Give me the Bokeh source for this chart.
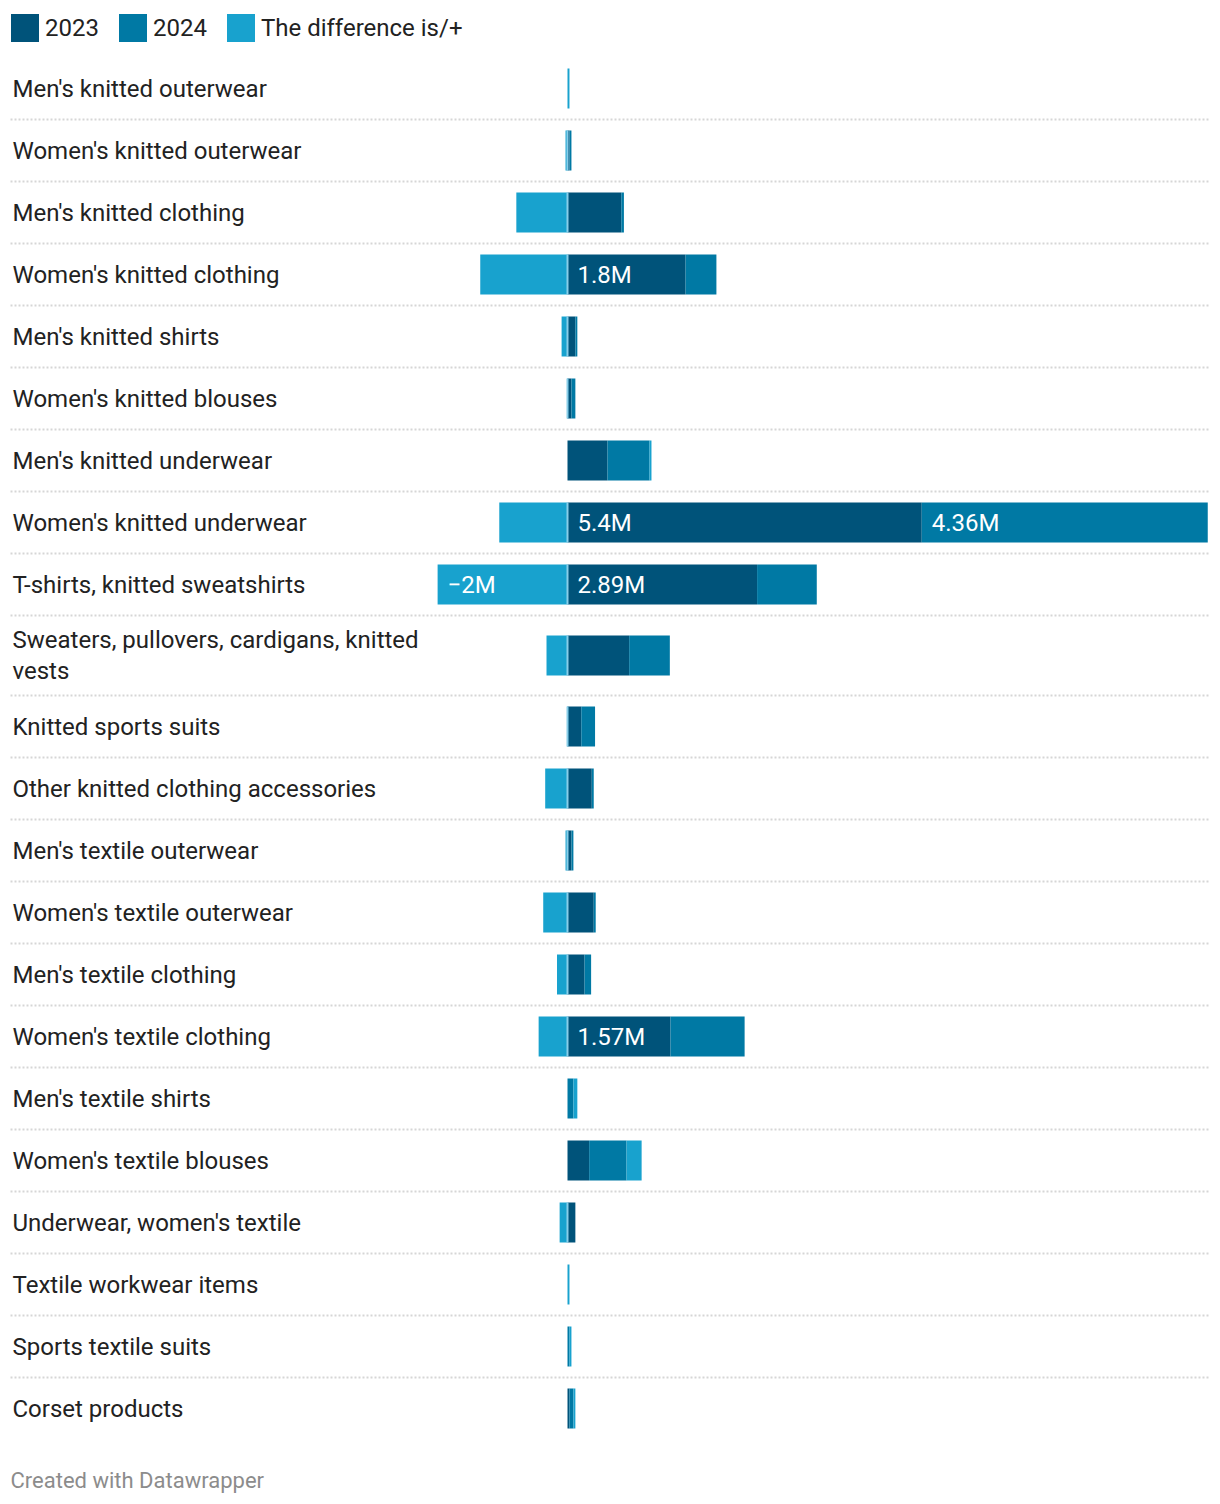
from bokeh.plotting import figure
from bokeh.models import Range1d, Legend, LegendItem, Label, ColumnDataSource
from bokeh.core.properties import value
from bokeh.embed import file_html
from bokeh.resources import INLINE

# ---------------- data (millions) ----------------
categories = [
    "Men's knitted outerwear",
    "Women's knitted outerwear",
    "Men's knitted clothing",
    "Women's knitted clothing",
    "Men's knitted shirts",
    "Women's knitted blouses",
    "Men's knitted underwear",
    "Women's knitted underwear",
    "T-shirts, knitted sweatshirts",
    "Sweaters, pullovers, cardigans, knitted\nvests",
    "Knitted sports suits",
    "Other knitted clothing accessories",
    "Men's textile outerwear",
    "Women's textile outerwear",
    "Men's textile clothing",
    "Women's textile clothing",
    "Men's textile shirts",
    "Women's textile blouses",
    "Underwear, women's textile",
    "Textile workwear items",
    "Sports textile suits",
    "Corset products",
]
v2023 = [0.0, 0.03, 0.82, 1.8, 0.12, 0.06, 0.61, 5.4, 2.89, 0.94, 0.21, 0.37,
         0.06, 0.40, 0.26, 1.57, 0.0, 0.33, 0.12, 0.0, 0.0, 0.03]
v2024 = [0.0, 0.03, 0.04, 0.47, 0.03, 0.06, 0.64, 4.36, 0.91, 0.62, 0.21, 0.03,
         0.03, 0.03, 0.10, 1.13, 0.09, 0.57, 0.0, 0.0, 0.03, 0.06]
vdiff = [0.03, -0.03, -0.78, -1.33, -0.09, -0.005, 0.03, -1.04, -1.98, -0.32, -0.005, -0.34,
         -0.03, -0.37, -0.16, -0.44, 0.06, 0.23, -0.12, 0.03, 0.03, 0.03]
lab2023 = ["", "", "", "1.8M", "", "", "", "5.4M", "2.89M", "", "", "",
           "", "", "", "1.57M", "", "", "", "", "", ""]
lab2024 = ["", "", "", "", "", "", "", "4.36M", "", "", "", "",
           "", "", "", "", "", "", "", "", "", ""]
labdiff = ["", "", "", "", "", "", "", "", "\u22122M", "", "", "",
           "", "", "", "", "", "", "", "", "", ""]
series_names = ["2023", "2024", "The difference is/+"]

# ---------------- style / layout ----------------
C2023, C2024, CDIFF, CZERO = "#00537a", "#0079a4", "#18a2ce", "#88cee9"
FONT = "Roboto"
W, H = 1216, 1500
PX_PER_M = 65.6
ZERO_PX = 567
xs = -ZERO_PX / PX_PER_M
xe = (W - ZERO_PX) / PX_PER_M
ROW_H, LINE_EXTRA, TOP, BAR_H = 62, 18, 57, 40

p = figure(width=W, height=H, x_range=Range1d(xs, xe), y_range=Range1d(H, 0),
           output_backend="svg", toolbar_location=None,
           x_axis_location=None, y_axis_location=None, min_border=0,
           outline_line_color=None, background_fill_color="white")
p.grid.visible = False

n = len(categories)
centers, bottoms = [], []
y = TOP
for c in categories:
    h = ROW_H + LINE_EXTRA * c.count("\n")
    centers.append(y + h / 2)
    bottoms.append(y + h)
    y += h

# dotted separators between rows
sep_y = bottoms[:-1]
p.segment(x0=[xs + 10 / PX_PER_M] * len(sep_y), x1=[xs + 1208 / PX_PER_M] * len(sep_y),
          y0=sep_y, y1=sep_y, line_color="#d6d6d6", line_width=2, line_dash="2 2")

# stacked bars
pos = [0.0] * n
neg = [0.0] * n
renderers = []
label_sources = []
for vals, col, labs in [(v2023, C2023, lab2023), (v2024, C2024, lab2024), (vdiff, CDIFF, labdiff)]:
    left, right = [], []
    for i, v in enumerate(vals):
        if v >= 0:
            left.append(pos[i]); right.append(pos[i] + v); pos[i] += v
        else:
            right.append(neg[i]); left.append(neg[i] + v); neg[i] += v
    src = ColumnDataSource(dict(y=centers, left=left, right=right, lab=labs))
    r = p.hbar(y="y", left="left", right="right", height=BAR_H, source=src,
               fill_color=col, line_color=None)
    renderers.append(r)
    label_sources.append(src)

# pale zero seam where the difference is negative
zy = [centers[i] for i in range(n) if vdiff[i] < 0]
p.rect(x=[0] * len(zy), y=zy, width=2, width_units="screen", height=BAR_H,
       fill_color=CZERO, line_color=None)

# value labels
for src in label_sources:
    p.text(x="left", y="y", text="lab", source=src, x_offset=10,
           text_font=value(FONT), text_font_size="24px", text_color="white",
           text_baseline="middle", text_align="left")

# category labels
p.text(x=[xs] * n, y=centers, text=categories, x_offset=12,
       text_font=value(FONT), text_font_size="24px", text_color="#222222",
       text_baseline="middle", text_align="left", text_line_height=1.1)

# legend (bar legend glyphs are drawn at 80% of the glyph box)
legend = Legend(items=[LegendItem(label=nm, renderers=[r]) for nm, r in zip(series_names, renderers)],
                orientation="horizontal", location=(7, H - 45),
                glyph_width=35, glyph_height=35, label_standoff=3, spacing=16,
                padding=0, margin=0, border_line_alpha=0, background_fill_alpha=0,
                label_text_font=FONT, label_text_font_size="24px", label_text_color="#222222")
p.add_layout(legend)

p.add_layout(Label(x=10, y=H - 1480, x_units="screen", y_units="screen",
                   text="Created with Datawrapper", text_font=FONT,
                   text_font_size="22px", text_color="#8c8c8c", text_baseline="middle"))

open("out.html", "w").write(file_html(p, INLINE))
